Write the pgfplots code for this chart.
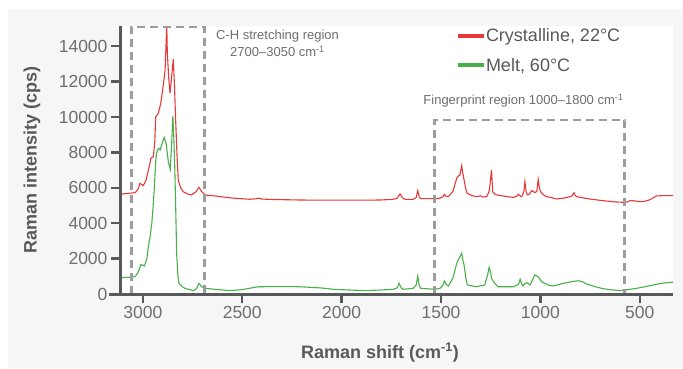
\documentclass[border=0pt]{standalone}
\usepackage{pgfplots}
\pgfplotsset{compat=1.18}
\usepackage{fontspec}
\setmainfont{Liberation Sans}
\definecolor{panelgray}{HTML}{F6F6F6}
\definecolor{axisgray}{HTML}{58595B}
\definecolor{tickgray}{HTML}{6D6E71}
\definecolor{boxgray}{HTML}{9D9D9D}
\definecolor{cred}{HTML}{E8393A}
\definecolor{cgreen}{HTML}{47B04B}
\begin{document}
\begin{tikzpicture}
\path[use as bounding box] (0pt,0pt) rectangle (683pt,-369pt);
\fill[panelgray] (8pt,-9pt) rectangle (683pt,-368pt);
\begin{axis}[
  name=ax,
  at={(120pt,-294pt)}, anchor=south west,
  scale only axis, width=553pt, height=268pt,
  x dir=reverse,
  xmin=333, xmax=3115, ymin=0, ymax=15140,
  axis background/.style={fill=white},
  axis line style={draw=none},
  xtick={500,1000,1500,2000,2500,3000},
  ytick={0,2000,4000,6000,8000,10000,12000,14000},
  xtick pos=bottom, ytick pos=left,
  tick align=outside,
  major tick length=9pt,
  tick style={line width=2.4pt, color=axisgray},
  scaled ticks=false,
  /pgf/number format/assume math mode=true,
  /pgf/number format/1000 sep={},
  ticklabel style={font=\fontsize{17.5}{17.5}\selectfont, color=tickgray},
  every axis x label/.style={at={(axis description cs:0.470,-0.218)}, anchor=center},
  every axis y label/.style={at={(axis description cs:-0.159,0.5)}, rotate=90, anchor=center},
  xlabel={\textbf{Raman shift (cm\textsuperscript{-1})}},
  ylabel={\textbf{Raman intensity (cps)}},
  label style={font=\fontsize{18}{18}\selectfont, color=axisgray},
  clip=true,
  legend style={at={(axis description cs:0.6076,0.972)}, anchor=north west,
    draw=none, fill=none, inner sep=0pt, outer sep=0pt,
    nodes={inner sep=0pt, text height=0.75em, text depth=0.25em},
    font=\fontsize{18}{18}\selectfont, text=axisgray, row sep=19pt,
    /tikz/every even column/.append style={column sep=4pt}},
  legend cell align=left,
  legend image code/.code={\draw[line width=4pt, #1] (0pt,0.38em) -- (26pt,0.38em);},
]
\addplot[cred, line width=1.1pt] coordinates {
(3115,5633) (3080,5680) (3039,5725) (3025,5900) (3014,6255) (2998,6120) (2985,6400)
(2972,7000) (2959,7670) (2947,7760) (2940,8600) (2935,10020) (2922,10210) (2910,10770)
(2897,11810) (2888,12660) (2882,14500) (2880,15300) (2877,13690) (2870,12200) (2863,11340)
(2855,12300) (2847,13260) (2841,11800) (2835,9830) (2828,7800) (2822,6440) (2810,6000)
(2797,5780) (2775,5650) (2755,5600) (2735,5750) (2718,6030) (2705,5800) (2687,5590)
(2637,5540) (2612,5500) (2550,5420) (2461,5350) (2430,5380) (2419,5420) (2405,5370)
(2377,5350) (2300,5330) (2209,5310) (2100,5300) (2000,5300) (1900,5300) (1807,5310)
(1740,5350) (1720,5420) (1706,5650) (1695,5450) (1682,5350) (1640,5350) (1625,5450)
(1617,5840) (1610,5500) (1602,5385) (1530,5385) (1505,5410) (1490,5500) (1483,5630)
(1475,5520) (1463,5500) (1440,5800) (1421,6540) (1410,6700) (1405,6720) (1396,7250)
(1390,6800) (1384,6440) (1375,5900) (1368,5690) (1345,5560) (1321,5500) (1300,5550)
(1290,5480) (1270,5500) (1258,5800) (1253,6255) (1246,7000) (1240,5780) (1230,5650)
(1220,5600) (1180,5520) (1136,5460) (1120,5520) (1111,5630) (1100,5520) (1094,5500)
(1083,5800) (1078,6345) (1072,5800) (1066,5600) (1055,5650) (1044,5840) (1035,5780)
(1028,5725) (1018,5800) (1011,6480) (1005,6000) (999,5780) (985,5600) (969,5500)
(940,5430) (918,5370) (880,5420) (851,5500) (840,5550) (831,5725) (825,5580) (818,5500)
(760,5380) (684,5270) (620,5200) (583,5180) (560,5200) (550,5280) (533,5270) (510,5230)
(483,5215) (450,5320) (416,5540) (380,5560) (340,5555) (333,5555)
};
\addlegendentry{Crystalline, 22°C}
\addplot[cgreen, line width=1.1pt] coordinates {
(3115,920) (3080,940) (3039,980) (3025,1200) (3009,1680) (2998,1600) (2992,1580)
(2980,2000) (2972,2670) (2963,3300) (2955,3990) (2948,5000) (2942,6060) (2935,7570)
(2930,8000) (2922,8230) (2913,8140) (2903,8500) (2893,8850) (2883,8510) (2872,7480)
(2862,7040) (2855,8500) (2849,10060) (2844,8800) (2839,7000) (2834,4500) (2830,2300)
(2824,1100) (2818,600) (2800,400) (2788,320) (2746,190) (2730,300) (2718,600) (2705,420)
(2687,320) (2637,265) (2564,190) (2500,250) (2419,410) (2300,420) (2209,410) (2100,340)
(2042,265) (1950,220) (1874,190) (1807,225) (1740,265) (1720,350) (1711,600) (1700,350)
(1690,265) (1640,320) (1625,500) (1617,1020) (1610,500) (1602,320) (1530,265) (1505,320)
(1490,500) (1483,735) (1475,550) (1463,450) (1440,900) (1421,1735) (1405,2100) (1396,2300)
(1390,1900) (1384,1640) (1375,900) (1368,510) (1321,410) (1280,510) (1265,1100) (1258,1510)
(1250,1200) (1246,890) (1230,600) (1213,410) (1136,410) (1110,550) (1102,830) (1095,600)
(1088,450) (1078,600) (1069,640) (1052,510) (1040,800) (1028,1075) (1011,980) (994,695)
(960,500) (936,450) (886,600) (840,700) (810,750) (790,700) (768,565) (720,400) (684,300)
(640,230) (600,190) (560,250) (516,320) (470,420) (416,550) (380,620) (340,660) (333,665)
};
\addlegendentry{Melt, 60°C}
\draw[boxgray, line width=2.6pt, dash pattern=on 8pt off 5pt]
  (axis cs:3058,0) rectangle (axis cs:2690,15080);
\draw[boxgray, line width=2.6pt, dash pattern=on 8pt off 5pt]
  (axis cs:1532,0) rectangle (axis cs:576,9830);
\end{axis}
\draw[axisgray, line width=3pt] ([xshift=-11pt]ax.south west) -- (ax.south east);
\draw[axisgray, line width=3pt] ([yshift=-1.5pt]ax.south west) -- (ax.north west);
\node[align=center, font=\fontsize{13}{16.5}\selectfont, text=tickgray] at (277.5pt,-43.5pt)
  {C-H stretching region\\2700–3050 cm\textsuperscript{-1}};
\node[font=\fontsize{13}{13}\selectfont, text=tickgray] at (523.5pt,-101pt)
  {Fingerprint region 1000–1800 cm\textsuperscript{-1}};
\end{tikzpicture}
\end{document}
